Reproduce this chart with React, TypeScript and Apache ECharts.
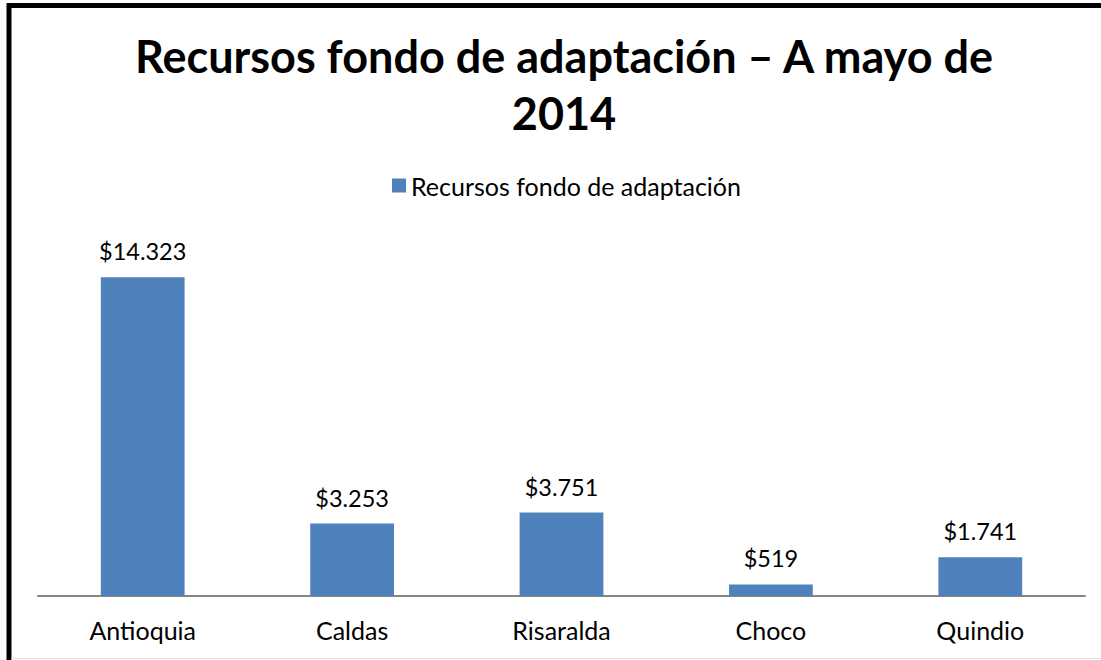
import React, { useEffect, useRef } from "react";
import * as echarts from "echarts";

const categories = ["Antioquia", "Caldas", "Risaralda", "Choco", "Quindio"];
const values = [14323, 3253, 3751, 519, 1741];
const seriesName = "Recursos fondo de adaptación";
const titleText = "Recursos fondo de adaptación – A mayo de\n2014";

const FONT = "Lato, 'Open Sans', sans-serif";

function fmt(v: number): string {
  return "$" + String(v).replace(/\B(?=(\d{3})+(?!\d))/g, ".");
}

export default function App() {
  const ref = useRef<HTMLDivElement>(null);
  useEffect(() => {
    if (!ref.current) return;
    const chart = echarts.init(ref.current, undefined, { renderer: "svg" });
    chart.setOption({
      animation: false,
      backgroundColor: "#ffffff",
      title: {
        text: titleText,
        left: 559,
        textAlign: "center",
        top: 22,
        textStyle: {
          fontFamily: FONT,
          fontWeight: "bold",
          fontSize: 45,
          lineHeight: 57,
          color: "#000",
        },
      },
      legend: {
        data: [seriesName],
        top: 168,
        left: 387,
        icon: "rect",
        itemWidth: 14,
        itemHeight: 14,
        itemGap: 8,
        textStyle: { fontFamily: FONT, fontSize: 25, color: "#000" },
      },
      grid: { left: 38, right: 16, top: 240, bottom: 64, containLabel: false },
      xAxis: {
        type: "category",
        data: categories,
        axisLine: { lineStyle: { color: "#868686", width: 2 } },
        axisTick: { show: false },
        axisLabel: { fontFamily: FONT, fontSize: 25, color: "#000", margin: 21 },
      },
      yAxis: {
        type: "value",
        min: 0,
        max: 16000,
        show: false,
        splitLine: { show: false },
      },
      series: [
        {
          name: seriesName,
          type: "bar",
          data: values,
          barWidth: "40%",
          itemStyle: { color: "#4F81BD" },
          label: {
            show: true,
            position: "top",
            distance: 14,
            fontFamily: FONT,
            fontSize: 23.5,
            color: "#000",
            formatter: (p: any) => fmt(p.value),
          },
        },
      ],
      graphic: [
        {
          type: "rect",
          shape: { x: 9, y: 5.5, width: 1300, height: 800 },
          style: { fill: "none", stroke: "#000", lineWidth: 5 },
          silent: true,
        },
        {
          type: "line",
          shape: { x1: 11, y1: 658.5, x2: 1101, y2: 658.5 },
          style: { stroke: "#e0e0e0", lineWidth: 1 },
          silent: true,
        },
      ],
    });
    return () => chart.dispose();
  }, []);
  return (
    <div
      ref={ref}
      style={{ position: "fixed", left: 0, top: 0, width: 1101, height: 660 }}
    />
  );
}
